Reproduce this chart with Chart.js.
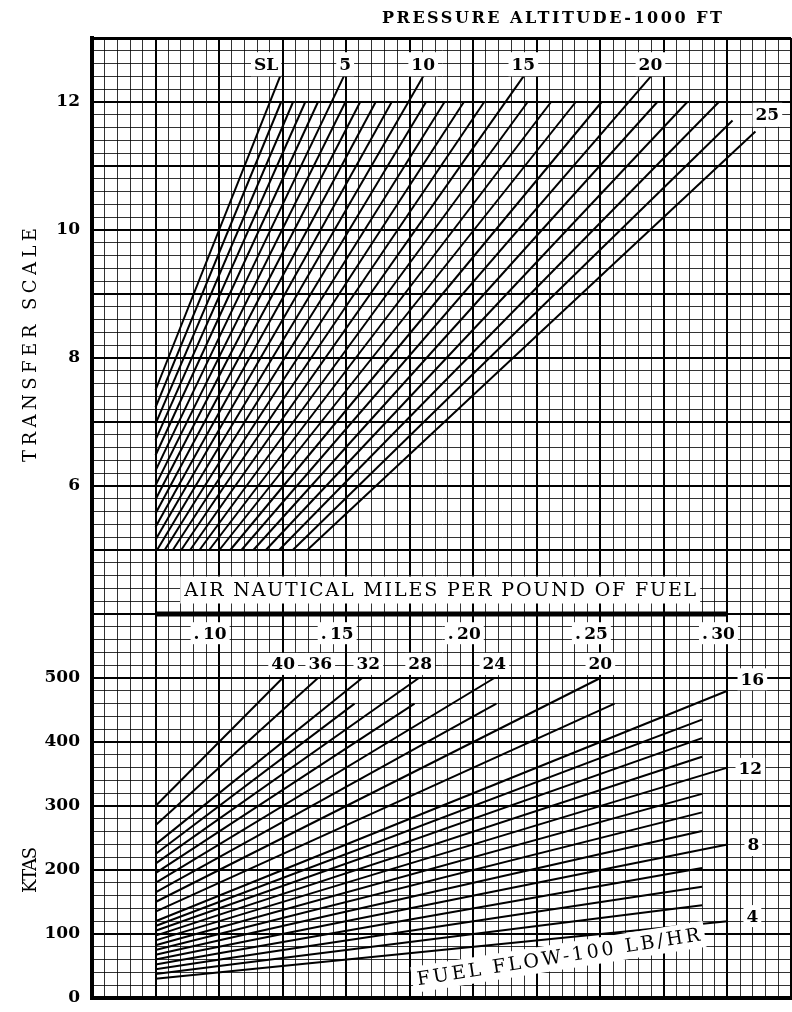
<!DOCTYPE html>
<html><head><meta charset="utf-8">
<script src="https://cdn.jsdelivr.net/npm/chart.js@4.4.1/dist/chart.umd.min.js"></script>
<style>html,body{margin:0;padding:0;background:#fff;}canvas{display:block;}</style>
</head><body>
<canvas id="c" width="792" height="1012"></canvas>
<script>
// ---------------- DATA ----------------
// Upper panel: pressure altitude lines (1000 ft), transfer scale vs ANM/lb
const altitudes   = [0,1,2,3,4,5,6,7,8,9,10,11,12,13,14,15,16,17,18,19,20,21,22,23,24,25];
const altStartAnm = [0.075,0.075,0.075,0.075,0.075,0.075,0.075,0.075,0.075,0.075,0.075,0.0756,0.0786,0.0818,0.0851,0.0886,0.0923,0.0961,0.1001,0.1044,0.1088,0.1135,0.1184,0.1236,0.1290,0.1347];
const altStartT   = [7.50,7.23,6.97,6.72,6.48,6.24,6.01,5.79,5.57,5.36,5.16,5,5,5,5,5,5,5,5,5,5,5,5,5,5,5];
const altEndAnm   = [0.1242,0.1244,0.1291,0.1339,0.1389,0.1493,0.1497,0.1555,0.1616,0.1679,0.1806,0.1814,0.1887,0.1963,0.2043,0.2201,0.2214,0.2306,0.2403,0.2505,0.2703,0.2724,0.2842,0.2966,0.302,0.311];
const altEndT     = [12.42,12,12,12,12,12.42,12,12,12,12,12.42,12,12,12,12,12.42,12,12,12,12,12.42,12,12,12,11.71,11.54];
const altLabelText = ['SL','5','10','15','20','25'];
const altLabelAnm  = [0.1185,0.1496,0.1803,0.2197,0.2697,0.3157];
const altLabelT    = [12.59,12.59,12.59,12.59,12.59,11.8];

// Lower panel: fuel flow lines (100 lb/hr), KTAS vs ANM/lb
const fuelFlows   = [4,5,6,7,8,9,10,11,12,13,14,15,16,18,20,22,24,26,28,30,32,36,40];
const ffStartAnm  = [0.075,0.075,0.075,0.075,0.075,0.075,0.075,0.075,0.075,0.075,0.075,0.075,0.075,0.075,0.075,0.075,0.075,0.075,0.075,0.075,0.075,0.075,0.075];
const ffStartKtas = [30,37.5,45,52.5,60,67.5,75,82.5,90,97.5,105,112.5,120,135,150,165,180,195,210,225,240,270,300];
const ffEndAnm    = [0.30,0.29,0.29,0.29,0.30,0.29,0.29,0.29,0.30,0.29,0.29,0.29,0.30,0.2556,0.25,0.2091,0.2083,0.1769,0.1786,0.1533,0.1563,0.1389,0.125];
const ffEndKtas   = [120,145,174,203,240,261,290,319,360,377,406,435,480,460,500,460,500,460,500,460,500,500,500];
const ffLabelText = ['40','36','32','28','24','20','16','12','8','4'];
const ffLabelAnm  = [0.1252,0.1398,0.1587,0.1791,0.2083,0.25,0.3098,0.309,0.3102,0.3098];
const ffLabelKtas = [522,522,522,522,522,522,498,358,239,128];

// ANM scale bar and tick labels
const anmBarAnm  = [0.075, 0.30];
const anmBarKtas = [600, 600];
const anmTickValues = [0.10,0.15,0.20,0.25,0.30];
const anmTickLabels = ['.\u200910','.\u200915','.\u200920','.\u200925','.\u200930'];
const ktasTickLabels = [0,100,200,300,400,500];
const transferTickLabels = [6,8,10,12];

// ---------------- CHART ----------------
const SERIF = "'DejaVu Serif','Liberation Serif',serif";
const datasets = [];
altitudes.forEach((h,i)=>datasets.push({
  label:'alt '+h, yAxisID:'yT', showLine:true, pointRadius:0, borderColor:'#000', borderWidth:2,
  data:[{x:altStartAnm[i],y:altStartT[i]},{x:altEndAnm[i],y:altEndT[i]}]
}));
fuelFlows.forEach((f,i)=>datasets.push({
  label:'ff '+f, yAxisID:'yK', showLine:true, pointRadius:0, borderColor:'#000', borderWidth:2,
  data:[{x:ffStartAnm[i],y:ffStartKtas[i]},{x:ffEndAnm[i],y:ffEndKtas[i]}]
}));
datasets.push({label:'anm bar', yAxisID:'yK', showLine:true, pointRadius:0, borderColor:'#000', borderWidth:5, clip:false,
  data: anmBarAnm.map((a,i)=>({x:a,y:anmBarKtas[i]}))});

const MINOR = 'rgba(0,0,0,0.8)';
function xMajor(v){return Math.round(v*1000)%25===0;}
function yKMajor(v){return Math.round(v)%100===0;}
function yTMajor(v){return Math.abs(v-Math.round(v))<1e-6;}

function drawText(ctx, text, x, y, o){
  ctx.save();
  ctx.font = o.font;
  ctx.letterSpacing = '0px';
  const n = [...text].length;
  const w0 = ctx.measureText(text).width;
  let ls = 0;
  if (o.width && n>1) ls = (o.width - w0)/(n-1);
  ctx.letterSpacing = ls+'px';
  const total = w0 + ls*(n-1);
  ctx.translate(x,y);
  if (o.angle) ctx.rotate(o.angle*Math.PI/180);
  if (o.box){
    const px = o.padX!=null?o.padX:3, h = o.boxH||22;
    ctx.fillStyle='#fff';
    ctx.fillRect(-total/2-px, -h/2, total+2*px, h);
  }
  ctx.fillStyle='#000';
  ctx.textAlign='left';
  ctx.textBaseline='middle';
  ctx.fillText(text, -total/2, o.dy||1);
  ctx.restore();
}

const labelPlugin = {
  id:'labels',
  afterDatasetsDraw(chart){
    const ctx=chart.ctx, xs=chart.scales.x, yT=chart.scales.yT, yK=chart.scales.yK;
    altLabelText.forEach((t,i)=>drawText(ctx,t,xs.getPixelForValue(altLabelAnm[i]),yT.getPixelForValue(altLabelT[i]),
      {font:'bold 17px '+SERIF, box:true, boxH:24}));
    ffLabelText.forEach((t,i)=>drawText(ctx,t,xs.getPixelForValue(ffLabelAnm[i]),yK.getPixelForValue(ffLabelKtas[i]),
      {font:'bold 17px '+SERIF, box:true, boxH:22}));
    anmTickValues.forEach((v,i)=>drawText(ctx,anmTickLabels[i],xs.getPixelForValue(v)-9,yK.getPixelForValue(570),
      {font:'bold 17px '+SERIF, box:true, boxH:22}));
    drawText(ctx,'AIR NAUTICAL MILES PER POUND OF FUEL',xs.getPixelForValue(0.187),yK.getPixelForValue(637.5),
      {font:'19px '+SERIF, width:512, box:true, boxH:27, padX:4});
    drawText(ctx,'FUEL FLOW-100 LB/HR',xs.getPixelForValue(0.2335),yK.getPixelForValue(64),
      {font:'19px '+SERIF, width:286, angle:-9, box:true, boxH:26, padX:5});
  },
  afterDraw(chart){
    const ctx=chart.ctx;
    drawText(ctx,'PRESSURE ALTITUDE-1000 FT',552,18,{font:'bold 16px '+SERIF, width:340});
    drawText(ctx,'TRANSFER SCALE',30,345,{font:'18px '+SERIF, width:234, angle:-90});
    drawText(ctx,'KTAS',30,870,{font:'18px '+SERIF, width:46, angle:-90});
  }
};

const tickFont = {family:SERIF, size:17, weight:'bold'};
const hiddenTick = {drawTicks:true, tickLength:10, tickColor:'rgba(0,0,0,0)'};
new Chart(document.getElementById('c'), {
  type:'scatter',
  data:{datasets},
  plugins:[labelPlugin],
  options:{
    responsive:false, animation:false, devicePixelRatio:1,
    layout:{autoPadding:false, padding:{top:38,bottom:14,left:0,right:1}},
    plugins:{legend:{display:false},tooltip:{enabled:false}},
    elements:{line:{tension:0,borderCapStyle:'butt'}},
    scales:{
      x:{type:'linear',position:'bottom',min:0.05,max:0.325,
        ticks:{stepSize:0.005,display:false,autoSkip:false,maxTicksLimit:1000},
        grid:{drawTicks:false,color:c=>xMajor(c.tick.value)?'#000':MINOR,lineWidth:c=>xMajor(c.tick.value)?2:1},
        border:{display:true,color:'#000',width:4},
        afterFit(s){s.height=0;}},
      yK:{type:'linear',position:'left',stack:'v',stackWeight:6,min:0,max:600,
        ticks:{stepSize:20,autoSkip:false,maxTicksLimit:1000,padding:2,color:'#000',font:tickFont,
          callback:v=>ktasTickLabels.includes(Math.round(v))&&Math.abs(v-Math.round(v))<1e-6?String(Math.round(v)):''},
        grid:Object.assign({color:c=>yKMajor(c.tick.value)?'#000':MINOR,lineWidth:c=>yKMajor(c.tick.value)?2:1},hiddenTick),
        border:{display:true,color:'#000',width:4},
        afterFit(s){s.width=92;}},
      yT:{type:'linear',position:'left',stack:'v',stackWeight:9,min:4,max:13,
        ticks:{stepSize:0.2,autoSkip:false,maxTicksLimit:1000,padding:2,color:'#000',font:tickFont,
          callback:v=>{const r=Math.round(v*10)/10;return (yTMajor(v)&&transferTickLabels.includes(r))?String(r):'';}},
        grid:Object.assign({color:c=>yTMajor(c.tick.value)?'#000':MINOR,
          lineWidth:c=>Math.abs(c.tick.value-13)<1e-6?3:(yTMajor(c.tick.value)?2:1)},hiddenTick),
        border:{display:true,color:'#000',width:4},
        afterFit(s){s.width=92;}}
    }
  }
});
</script>
</body></html>
